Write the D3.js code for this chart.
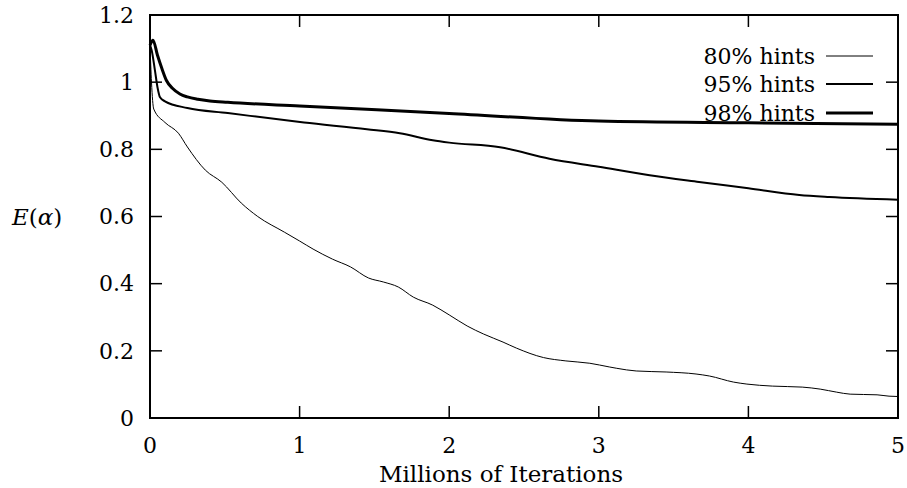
<!DOCTYPE html>
<html><head><meta charset="utf-8">
<script src="https://cdn.jsdelivr.net/npm/d3@7"></script>
<style>
html,body{margin:0;padding:0;background:#fff;}
</style></head>
<body><svg id="c" width="907" height="488"></svg>
<script>
const xTicks = [0,1,2,3,4,5];
const yTicks = [0,0.2,0.4,0.6,0.8,1,1.2];
const seriesNames = ["80% hints","95% hints","98% hints"];
const x80 = [0,0.01,0.025,0.1,0.19,0.25,0.37,0.48,0.61,0.72,0.9,1.0,1.09,1.22,1.34,1.46,1.56,1.66,1.76,1.89,2.0,2.12,2.23,2.36,2.45,2.63,2.78,2.94,3.07,3.12,3.25,3.45,3.65,3.74,3.9,3.99,4.16,4.36,4.48,4.59,4.68,4.86,4.94,5.0];
const y80 = [1.11,1.0,0.92,0.88,0.848,0.807,0.738,0.702,0.64,0.60,0.553,0.527,0.503,0.473,0.45,0.417,0.405,0.39,0.36,0.336,0.307,0.274,0.25,0.226,0.208,0.18,0.17,0.163,0.152,0.148,0.14,0.137,0.131,0.125,0.107,0.101,0.095,0.092,0.086,0.077,0.071,0.069,0.065,0.064];
const x95 = [0,0.011,0.033,0.05,0.067,0.1,0.25,0.52,1.03,1.45,1.67,1.89,2.0,2.34,2.67,3.0,3.34,3.67,4.0,4.34,4.54,5.0];
const y95 = [1.11,1.095,1.035,0.985,0.955,0.943,0.923,0.908,0.88,0.86,0.848,0.827,0.82,0.806,0.772,0.748,0.723,0.703,0.684,0.664,0.658,0.65];
const x98 = [0,0.02,0.05,0.08,0.11,0.15,0.2,0.25,0.32,0.4,0.52,1.0,2.0,3.0,4.0,5.0];
const y98 = [1.11,1.125,1.08,1.04,1.005,0.982,0.965,0.956,0.949,0.944,0.94,0.929,0.907,0.884,0.879,0.875];

const FONT = "'DejaVu Serif','Liberation Serif','Noto Serif','FreeSerif','Times New Roman',serif";
const svg = d3.select("#c").attr("font-family", FONT);
const L=150, R=898, T=15, B=418;
const x = d3.scaleLinear().domain([0,5]).range([L,R]);
const y = d3.scaleLinear().domain([0,1.2]).range([B,T]);
const fs = 22;

const tl = 12;
const g = svg.append("g").attr("stroke","#000").attr("stroke-width",1.5);
xTicks.forEach(v=>{
  g.append("line").attr("x1",x(v)).attr("x2",x(v)).attr("y1",B).attr("y2",B-tl);
  g.append("line").attr("x1",x(v)).attr("x2",x(v)).attr("y1",T).attr("y2",T+tl);
});
yTicks.forEach(v=>{
  g.append("line").attr("x1",L).attr("x2",L+tl).attr("y1",y(v)).attr("y2",y(v));
  g.append("line").attr("x1",R).attr("x2",R-tl).attr("y1",y(v)).attr("y2",y(v));
});
svg.append("rect").attr("x",L).attr("y",T).attr("width",R-L).attr("height",B-T)
  .attr("fill","none").attr("stroke","#000").attr("stroke-width",2);

xTicks.forEach(v=>{
  svg.append("text").attr("x",x(v)).attr("y",453).attr("text-anchor","middle")
    .attr("font-family",FONT).attr("font-size",fs).text(d3.format("~g")(v));
});
yTicks.forEach(v=>{
  svg.append("text").attr("x",134).attr("y",y(v)).attr("dy","0.35em").attr("text-anchor","end")
    .attr("font-family",FONT).attr("font-size",fs).text(d3.format("~g")(v));
});
svg.append("text").attr("x",501).attr("y",482).attr("text-anchor","middle")
  .attr("font-family",FONT).attr("font-size",23).text("Millions of Iterations");
const yl = svg.append("text").attr("x",12).attr("y",217).attr("dy","0.35em")
  .attr("font-family",FONT).attr("font-size",23);
yl.append("tspan").attr("font-style","italic").text("E");
yl.append("tspan").text("(");
yl.append("tspan").attr("font-style","italic").text("α");
yl.append("tspan").text(")");

const data = [[x80,y80],[x95,y95],[x98,y98]];
const widths = [1,2,3];
const line = d3.line().x(d=>x(d[0])).y(d=>y(d[1])).curve(d3.curveMonotoneX);
data.forEach((s,i)=>{
  const pts = s[0].map((v,j)=>[v,s[1][j]]);
  svg.append("path").attr("d",line(pts)).attr("fill","none").attr("stroke","#000")
    .attr("stroke-width",widths[i]).attr("stroke-linejoin","round");
});
const ly = [56,84,113];
seriesNames.forEach((n,i)=>{
  svg.append("text").attr("x",815).attr("y",ly[i]).attr("dy","0.35em").attr("text-anchor","end")
    .attr("font-family",FONT).attr("font-size",fs).text(n);
  svg.append("line").attr("x1",826).attr("x2",873).attr("y1",ly[i]).attr("y2",ly[i])
    .attr("stroke","#000").attr("stroke-width",widths[i]);
});
</script></body></html>
